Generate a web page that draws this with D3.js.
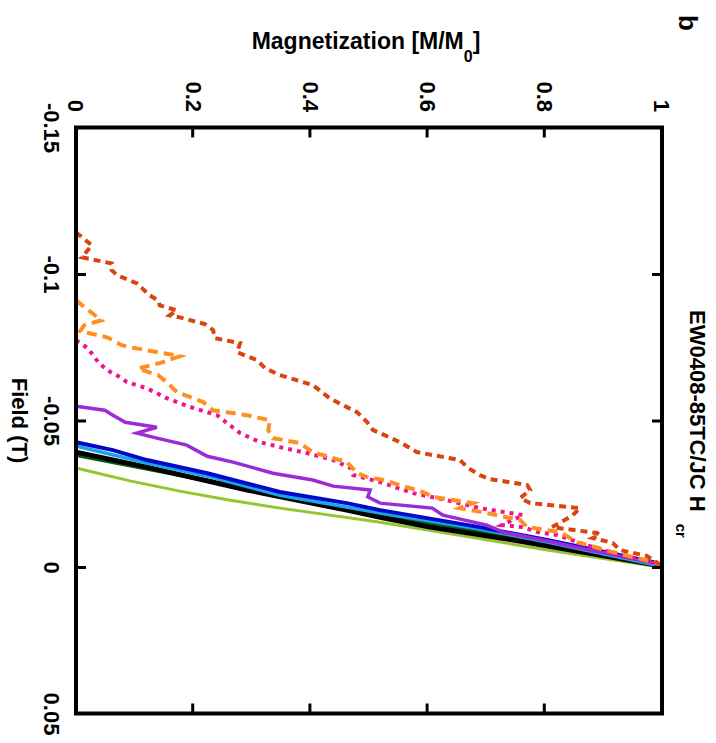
<!DOCTYPE html>
<html><head><meta charset="utf-8">
<script src="https://cdn.jsdelivr.net/npm/d3@7/dist/d3.min.js"></script>
<style>
html,body{margin:0;padding:0;background:#fff;}
svg{display:block;}
text{font-family:"Liberation Sans",Arial,Helvetica,sans-serif;font-weight:bold;fill:#000;}
</style></head>
<body><svg id="chart" width="716" height="743"></svg>
<script>
// ---- data (Field in T, Magnetization M/M0) ----
const fieldTicks = [-0.15, -0.1, -0.05, 0, 0.05];
const fieldTickLabels = ["-0.15", "-0.1", "-0.05", "0", "0.05"];
const magTicks = [0, 0.2, 0.4, 0.6, 0.8, 1];
const magTickLabels = ["0", "0.2", "0.4", "0.6", "0.8", "1"];

const darkOrange = [[-0.1142,0],[-0.1098,0.027],[-0.1057,0.010],[-0.1036,0.061],[-0.1013,0.061],[-0.0996,0.070],[-0.0968,0.104],[-0.0951,0.113],[-0.0927,0.126],[-0.0910,0.140],[-0.0893,0.143],[-0.0876,0.172],[-0.0859,0.160],[-0.0852,0.177],[-0.0829,0.220],[-0.0808,0.234],[-0.0781,0.237],[-0.0764,0.280],[-0.0733,0.275],[-0.0706,0.309],[-0.0678,0.323],[-0.0655,0.348],[-0.0621,0.404],[-0.0576,0.433],[-0.0552,0.456],[-0.0528,0.480],[-0.0494,0.497],[-0.0467,0.507],[-0.0457,0.519],[-0.0426,0.553],[-0.0406,0.570],[-0.0392,0.582],[-0.0365,0.655],[-0.0338,0.669],[-0.0314,0.689],[-0.0300,0.706],[-0.0280,0.770],[-0.0263,0.775],[-0.0235,0.758],[-0.0218,0.775],[-0.0201,0.860],[-0.0174,0.846],[-0.0136,0.812],[-0.0116,0.889],[-0.0109,0.894],[-0.0099,0.882],[-0.0082,0.916],[-0.0058,0.928],[-0.0038,0.974],[-0.0007,0.997]];
const orange = [[-0.0910,0],[-0.0842,0.043],[-0.0825,0.014],[-0.0805,0.007],[-0.0784,0.053],[-0.0757,0.078],[-0.0750,0.092],[-0.0726,0.160],[-0.0719,0.177],[-0.0696,0.143],[-0.0678,0.106],[-0.0661,0.130],[-0.0655,0.140],[-0.0631,0.155],[-0.0597,0.172],[-0.0580,0.195],[-0.0563,0.217],[-0.0535,0.234],[-0.0528,0.258],[-0.0518,0.292],[-0.0501,0.331],[-0.0467,0.328],[-0.0440,0.336],[-0.0423,0.382],[-0.0392,0.404],[-0.0358,0.462],[-0.0320,0.480],[-0.0303,0.502],[-0.0300,0.519],[-0.0256,0.592],[-0.0239,0.609],[-0.0218,0.677],[-0.0201,0.655],[-0.0184,0.701],[-0.0160,0.758],[-0.0136,0.770],[-0.0119,0.826],[-0.0085,0.855],[-0.0051,0.916],[-0.0014,0.991],[-0.0003,0.997]];
const pink = [[-0.0774,0],[-0.0747,0.020],[-0.0699,0.038],[-0.0672,0.053],[-0.0648,0.075],[-0.0631,0.087],[-0.0610,0.121],[-0.0576,0.155],[-0.0546,0.195],[-0.0518,0.241],[-0.0491,0.258],[-0.0457,0.280],[-0.0426,0.314],[-0.0409,0.348],[-0.0389,0.394],[-0.0365,0.439],[-0.0338,0.468],[-0.0314,0.473],[-0.0290,0.519],[-0.0252,0.575],[-0.0228,0.633],[-0.0201,0.689],[-0.0177,0.763],[-0.0143,0.727],[-0.0136,0.763],[-0.0119,0.787],[-0.0109,0.821],[-0.0082,0.860],[-0.0048,0.916],[-0.0014,0.985],[-0.0003,0.997]];
const purple = [[-0.0549,0],[-0.0535,0.049],[-0.0518,0.063],[-0.0494,0.084],[-0.0477,0.138],[-0.0457,0.104],[-0.0440,0.138],[-0.0416,0.189],[-0.0378,0.224],[-0.0358,0.268],[-0.0320,0.336],[-0.0297,0.404],[-0.0276,0.439],[-0.0263,0.502],[-0.0239,0.498],[-0.0218,0.519],[-0.0201,0.608],[-0.0177,0.626],[-0.0143,0.701],[-0.0119,0.729],[-0.0089,0.804],[-0.0065,0.860],[-0.0014,0.985],[-0.0003,0.997]];
const blue = [[-0.0426,0],[-0.0399,0.063],[-0.0365,0.121],[-0.0320,0.224],[-0.0256,0.348],[-0.0218,0.462],[-0.0194,0.519],[-0.0136,0.689],[-0.0092,0.804],[-0.0014,0.991],[-0.0003,0.997]];
const lightBlue = [[-0.0413,0],[-0.0355,0.121],[-0.0310,0.224],[-0.0245,0.348],[-0.0184,0.519],[-0.0130,0.689],[-0.0085,0.804],[-0.0003,0.997]];
const darkGreen = [[-0.0382,0],[-0.0314,0.177],[-0.0245,0.348],[-0.0177,0.519],[-0.0119,0.689],[-0.0078,0.804],[-0.0003,0.997]];
const black = [[-0.0392,0],[-0.0341,0.121],[-0.0263,0.292],[-0.0194,0.462],[-0.0170,0.519],[-0.0136,0.604],[-0.0092,0.746],[-0.0007,0.991]];
const yellowGreen = [[-0.0338,0],[-0.0294,0.092],[-0.0259,0.177],[-0.0228,0.263],[-0.0201,0.348],[-0.0177,0.433],[-0.0153,0.519],[-0.0119,0.621],[-0.0085,0.724],[-0.0058,0.804],[-0.0031,0.894],[0,0.997]];

// ---- layout (drawn in the unrotated frame, then turned 90deg clockwise) ----
const H = 716;
const svg = d3.select("#chart");
const g = svg.append("g").attr("transform", `translate(${H},0) rotate(90)`);

const x = d3.scaleLinear().domain([-0.15, 0.05]).range([127.5, 713.5]);
const y = d3.scaleLinear().domain([0, 1]).range([640, 54]);

const series = [
  {data: yellowGreen, color: "#99c431", width: 3, dash: null},
  {data: darkGreen, color: "#0a5a14", width: 4, dash: null},
  {data: black, color: "#000000", width: 5, dash: null},
  {data: lightBlue, color: "#1aa6e6", width: 3.5, dash: null},
  {data: blue, color: "#0008cc", width: 4, dash: null},
  {data: purple, color: "#9a2bd6", width: 3.5, dash: null},
  {data: pink, color: "#f0158c", width: 4, dash: "4,5"},
  {data: orange, color: "#ff8f22", width: 4, dash: "10,6"},
  {data: darkOrange, color: "#d9440f", width: 4, dash: "7,5"}
];

const line = d3.line().x(d => x(d[0])).y(d => y(d[1]));

g.append("g").selectAll("path").data(series).join("path")
  .attr("d", d => line(d.data))
  .attr("fill", "none")
  .attr("stroke", d => d.color)
  .attr("stroke-width", d => d.width)
  .attr("stroke-dasharray", d => d.dash)
  .attr("stroke-linejoin", "miter");

// axes
const fmtField = d => fieldTickLabels[fieldTicks.indexOf(d)];
const fmtMag = d => magTickLabels[magTicks.indexOf(d)];

const axB = g.append("g").attr("transform", `translate(0,${y(0)})`)
  .call(d3.axisBottom(x).tickValues(fieldTicks).tickFormat(fmtField).tickSize(-10).tickPadding(16));
const axT = g.append("g").attr("transform", `translate(0,${y(1)})`)
  .call(d3.axisTop(x).tickValues(fieldTicks.slice(1, -1)).tickFormat("").tickSize(-10));
const axL = g.append("g").attr("transform", `translate(${x(-0.15)},0)`)
  .call(d3.axisLeft(y).tickValues(magTicks).tickFormat(fmtMag).tickSize(-10).tickPadding(15.5));
const axR = g.append("g").attr("transform", `translate(${x(0.05)},0)`)
  .call(d3.axisRight(y).tickValues(magTicks.slice(1, -1)).tickFormat("").tickSize(-10));

[axB, axT, axL, axR].forEach(a => {
  a.select(".domain").remove();
  a.selectAll(".tick line").attr("stroke", "#000").attr("stroke-width", 3);
  a.selectAll(".tick text").attr("font-size", 22).attr("font-weight", "bold")
    .attr("font-family", '"Liberation Sans", Arial, sans-serif').attr("fill", "#000");
});
axB.selectAll(".tick line").filter(d => d === -0.15 || d === 0.05).remove();
axL.selectAll(".tick line").filter(d => d === 0 || d === 1).remove();

// frame
g.append("rect")
  .attr("x", x(-0.15)).attr("y", y(1))
  .attr("width", x(0.05) - x(-0.15)).attr("height", y(0) - y(1))
  .attr("fill", "none").attr("stroke", "#000").attr("stroke-width", 4);

// axis titles
g.append("text")
  .attr("x", (x(-0.15) + x(0.05)) / 2).attr("y", 704.5)
  .attr("text-anchor", "middle").attr("font-size", 22)
  .text("Field (T)");

const yt = g.append("text")
  .attr("transform", `translate(49,${y(0.5) + 3}) rotate(-90)`)
  .attr("text-anchor", "middle").attr("font-size", 23);
yt.append("tspan").text("Magnetization [M/M");
yt.append("tspan").attr("font-size", 16).attr("dy", 13).text("0");
yt.append("tspan").attr("dy", -13).text("]");

// chart title
const tt = g.append("text").attr("x", 310).attr("y", 26).attr("font-size", 22);
tt.append("tspan").text("EW0408-85TC/JC H");
tt.append("tspan").attr("font-size", 15).attr("dx", 12).attr("dy", 14).text("cr");

g.append("text").attr("x", 15).attr("y", 37).attr("font-size", 26).text("b");
</script>
</body></html>
